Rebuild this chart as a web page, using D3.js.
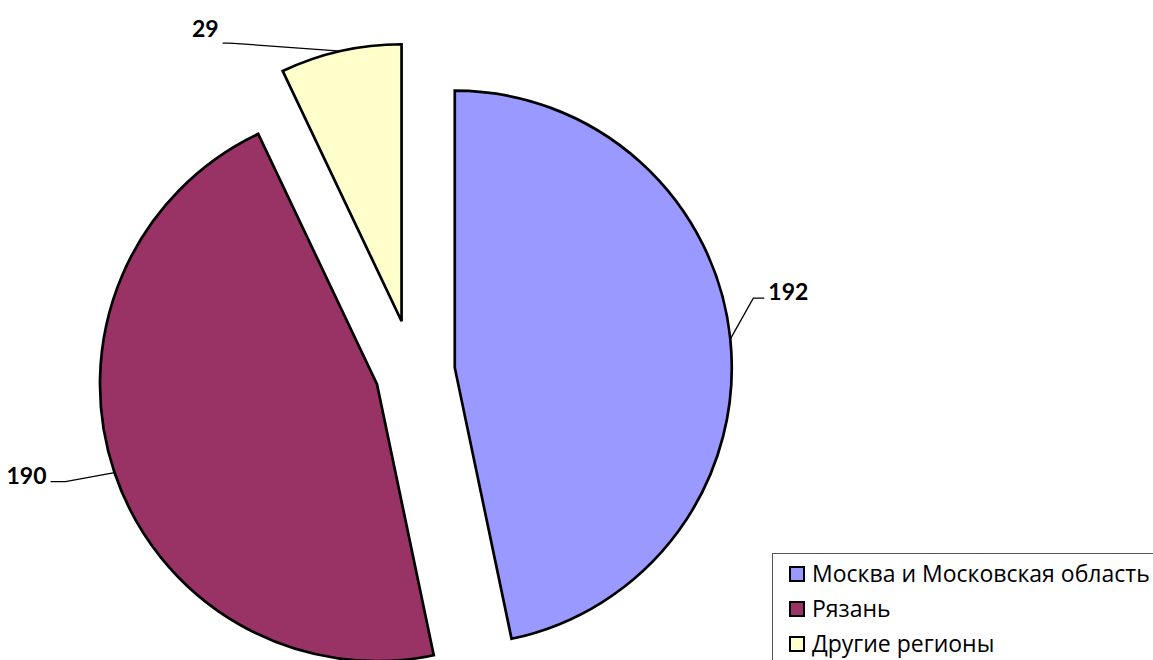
<!DOCTYPE html>
<html>
<head>
<meta charset="utf-8">
<script src="https://cdn.jsdelivr.net/npm/d3@7"></script>
<style>
  body { margin: 0; background: #fff; }
  svg { display: block; font-family: Lato, "Liberation Sans", sans-serif; }
</style>
</head>
<body>
<svg id="chart"></svg>
<script>
// data
const regions = ["Москва и Московская область", "Рязань", "Другие регионы"];
const counts = [192, 190, 29];
const colors = ["#9999FF", "#993366", "#FFFFCC"];
// how far each slice is pulled out of the pie
const explode = [42, 38, 52];
// leader line bend (relative to the arc point), tail length, text side
const leaderBend = [[23, -41], [-49, 9], [-111, -8]];
const leaderTail = [11, -15, -7];
const labelDy = [2, 2, -6];

const width = 1153, height = 660;
const cx = 413, cy = 372, r = 277;

const svg = d3.select("#chart")
  .attr("width", width)
  .attr("height", height);

const pie = d3.pie().sort(null).value(d => d);
const arcs = pie(counts);

const arc = d3.arc().innerRadius(0).outerRadius(r);

// direction of an angle (clockwise from 12 o'clock)
dir = (a) => [Math.sin(a), -Math.cos(a)];

const slices = svg.append("g").selectAll("g")
  .data(arcs)
  .join("g")
  .attr("transform", (d, i) => {
    const m = (d.startAngle + d.endAngle) / 2;
    const [ux, uy] = dir(m);
    return `translate(${cx + ux * explode[i]},${cy + uy * explode[i]})`;
  });

slices.append("path")
  .attr("d", arc)
  .attr("fill", (d, i) => colors[i])
  .attr("stroke", "#000")
  .attr("stroke-width", 2.7)
  .attr("stroke-linejoin", "miter");

// labels with leader lines
slices.each(function(d, i) {
  const g = d3.select(this);
  const m = (d.startAngle + d.endAngle) / 2;
  const [ux, uy] = dir(m);
  const px = ux * r, py = uy * r;
  const bx = px + leaderBend[i][0], by = py + leaderBend[i][1];
  const ex = bx + leaderTail[i];
  g.append("path")
    .attr("d", `M${px},${py}L${bx},${by}L${ex},${by}`)
    .attr("fill", "none")
    .attr("stroke", "#000")
    .attr("stroke-width", 1.3);
  g.append("text")
    .attr("x", ex + (leaderTail[i] > 0 ? 4 : -4))
    .attr("y", by + labelDy[i])
    .attr("text-anchor", leaderTail[i] > 0 ? "start" : "end")
    .style("font-weight", "bold")
    .style("font-size", "23px")
    .text(counts[i]);
});

// legend
const legend = svg.append("g").attr("transform", "translate(772,553)");
legend.append("rect")
  .attr("x", 0.5).attr("y", 0.5)
  .attr("width", 420).attr("height", 140)
  .attr("fill", "#fff")
  .attr("stroke", "#555")
  .attr("stroke-width", 1);

const items = legend.selectAll(".item")
  .data(regions)
  .join("g")
  .attr("class", "item")
  .attr("transform", (d, i) => `translate(0,${i * 35})`);

items.append("rect")
  .attr("x", 18).attr("y", 14)
  .attr("width", 14).attr("height", 14)
  .attr("fill", (d, i) => colors[i])
  .attr("stroke", "#000")
  .attr("stroke-width", 2);

items.append("text")
  .attr("x", 40).attr("y", 28.5)
  .style("font-family", "'Open Sans', sans-serif")
  .style("font-size", "23px")
  .text(d => d);
</script>
</body>
</html>
